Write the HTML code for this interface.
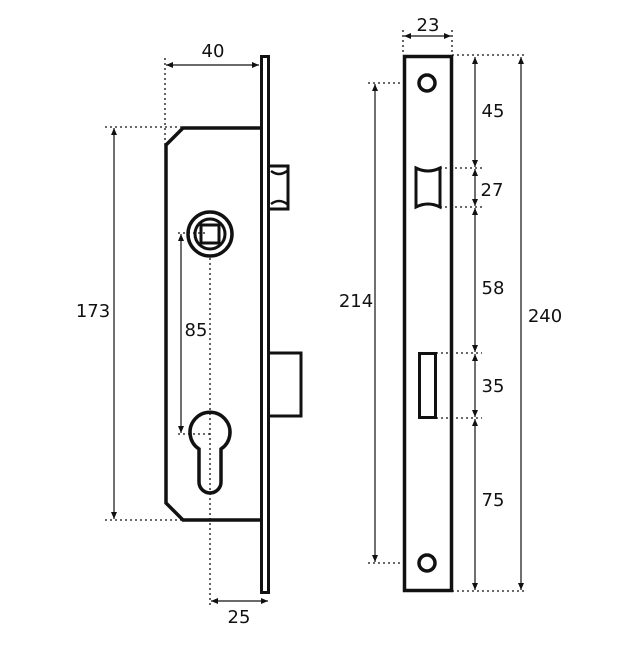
<!DOCTYPE html>
<html><head><style>
body{margin:0;background:#fff}
svg text{font-family:"DejaVu Sans","Liberation Sans",sans-serif;font-size:18px;fill:#111}
</style></head><body>
<svg width="640" height="640" viewBox="0 0 640 640" xmlns="http://www.w3.org/2000/svg">
<defs>
<marker id="a" markerWidth="8" markerHeight="8" refX="7" refY="4" orient="auto-start-reverse" markerUnits="userSpaceOnUse">
<path d="M0,1 L7,4 L0,7 Z" fill="#111"/></marker>
</defs>
<g fill="none" stroke="#111">
<rect x="261.5" y="56.5" width="7" height="536" stroke-width="3"/>
<path d="M261,128 L183,128 L166,145 L166,503 L183,520 L261,520" stroke-width="3.5"/>
<path d="M269,166 L288,166 L288,209 L269,209" stroke-width="3"/>
<path d="M271,171 Q279,177 287,171 M271,204 Q279,198 287,204" stroke-width="2.5"/>
<path d="M269,353 L301,353 L301,416 L269,416" stroke-width="3"/>
<circle cx="210" cy="234" r="22" stroke-width="3.5"/>
<circle cx="210" cy="234" r="15" stroke-width="3"/>
<rect x="201" y="225" width="18" height="18" stroke-width="3"/>
<path d="M199,449 A20,20 0 1 1 221,449 L221,482 A11,11 0 0 1 199,482 Z" stroke-width="3.5"/>
<g stroke-width="1.3" stroke-dasharray="2,3">
<line x1="165" y1="58" x2="165" y2="145"/>
<line x1="105" y1="127" x2="183" y2="127"/>
<line x1="105" y1="520" x2="183" y2="520"/>
<line x1="178" y1="233" x2="206" y2="233"/>
<line x1="178" y1="434" x2="210" y2="434"/>
<line x1="210" y1="258" x2="210" y2="608"/>
<line x1="405" y1="83" x2="368" y2="83" />
<line x1="405" y1="563" x2="368" y2="563"/>
<line x1="403" y1="30" x2="403" y2="55"/>
<line x1="452" y1="30" x2="452" y2="55"/>
<line x1="452" y1="55" x2="525" y2="55"/>
<line x1="452" y1="591" x2="525" y2="591"/>
<line x1="440" y1="168" x2="482" y2="168"/>
<line x1="440" y1="207" x2="482" y2="207"/>
<line x1="436" y1="353" x2="482" y2="353"/>
<line x1="436" y1="418" x2="482" y2="418"/>
</g>
<g stroke-width="1.2" marker-start="url(#a)" marker-end="url(#a)">
<line x1="166" y1="65" x2="259" y2="65"/>
<line x1="114" y1="128" x2="114" y2="519"/>
<line x1="181" y1="234" x2="181" y2="433"/>
<line x1="211" y1="601" x2="268" y2="601"/>
<line x1="404" y1="36" x2="451" y2="36"/>
<line x1="375" y1="84" x2="375" y2="562"/>
<line x1="521" y1="57" x2="521" y2="590"/>
<line x1="475" y1="57" x2="475" y2="167"/>
<line x1="475" y1="169" x2="475" y2="206"/>
<line x1="475" y1="208" x2="475" y2="352"/>
<line x1="475" y1="354" x2="475" y2="417"/>
<line x1="475" y1="419" x2="475" y2="590"/>
</g>
<rect x="404.5" y="56.5" width="47" height="534" stroke-width="3.5"/>
<circle cx="427" cy="83" r="8" stroke-width="3.5"/>
<circle cx="427" cy="563" r="8" stroke-width="3.5"/>
<path d="M416,168 Q428,174 440,168 L440,207 Q428,201 416,207 Z" stroke-width="3"/>
<rect x="419.5" y="353.5" width="16" height="64" stroke-width="3"/>
</g>
<text x="213" y="57" text-anchor="middle">40</text>
<text x="93" y="317" text-anchor="middle">173</text>
<text x="196" y="336" text-anchor="middle">85</text>
<text x="239" y="623" text-anchor="middle">25</text>
<text x="428" y="31" text-anchor="middle">23</text>
<text x="356" y="307" text-anchor="middle">214</text>
<text x="545" y="322" text-anchor="middle">240</text>
<text x="493" y="117" text-anchor="middle">45</text>
<text x="492" y="196" text-anchor="middle">27</text>
<text x="493" y="294" text-anchor="middle">58</text>
<text x="493" y="392" text-anchor="middle">35</text>
<text x="493" y="506" text-anchor="middle">75</text>
</svg>
</body></html>
